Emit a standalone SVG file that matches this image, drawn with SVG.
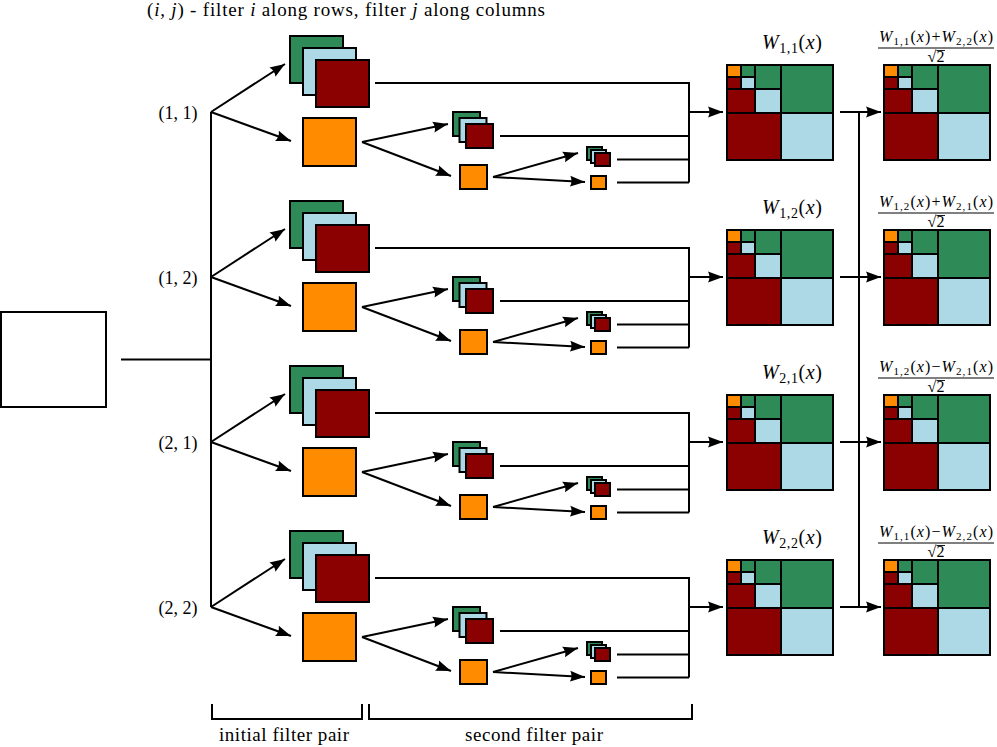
<svg xmlns="http://www.w3.org/2000/svg" xmlns:xlink="http://www.w3.org/1999/xlink" width="997" height="747" viewBox="0 0 997 747" font-family="'Liberation Serif', 'DejaVu Serif', serif">
<style>
.ln{fill:none;stroke:#000;stroke-width:2}
.ar{marker-end:url(#ah)}
text{font-family:"Liberation Serif","DejaVu Serif",serif;fill:#000}
.it{font-style:italic}
</style>
<defs>
<marker id="ah" markerUnits="userSpaceOnUse" markerWidth="16" markerHeight="12" refX="15" refY="6" orient="auto">
<path d="M0,0.5 L15,6 L0,11.5 Q3,6 0,0.5 z" fill="#000"/>
</marker>
<g id="s1" stroke="#000" stroke-width="2">
<rect x="0" y="0" width="53" height="47" fill="#2e8b57"/>
<rect x="13" y="12" width="53" height="47" fill="#add8e6"/>
<rect x="26" y="24" width="53" height="47" fill="#8b0000"/>
</g>
<g id="s2" stroke="#000" stroke-width="2">
<rect x="0" y="0" width="27" height="24" fill="#2e8b57"/>
<rect x="6.5" y="6" width="27" height="24" fill="#add8e6"/>
<rect x="13" y="12" width="27" height="24" fill="#8b0000"/>
</g>
<g id="s3" stroke="#000" stroke-width="2">
<rect x="0" y="0" width="15" height="13" fill="#2e8b57"/>
<rect x="4" y="3" width="15" height="13" fill="#add8e6"/>
<rect x="8" y="6" width="15" height="13" fill="#8b0000"/>
</g>
<g id="wq" stroke="#000" stroke-width="2">
<rect x="54" y="0" width="52" height="48" fill="#2e8b57"/>
<rect x="54" y="48" width="52" height="47" fill="#add8e6"/>
<rect x="0" y="48" width="54" height="47" fill="#8b0000"/>
<rect x="28" y="0" width="26" height="24" fill="#2e8b57"/>
<rect x="28" y="24" width="26" height="24" fill="#add8e6"/>
<rect x="0" y="24" width="28" height="24" fill="#8b0000"/>
<rect x="0" y="0" width="14" height="12" fill="#ff8c00"/>
<rect x="14" y="0" width="14" height="12" fill="#2e8b57"/>
<rect x="14" y="12" width="14" height="12" fill="#add8e6"/>
<rect x="0" y="12" width="14" height="12" fill="#8b0000"/>
<rect x="0" y="0" width="106" height="95" fill="none"/>
</g>
<g id="rowlines">
<path class="ln ar" d="M211,112 L285,64"/>
<path class="ln ar" d="M211,112 L291,141"/>
<path class="ln" d="M375,83 H689 V182.5"/>
<path class="ln ar" d="M362,142 L448,124"/>
<path class="ln ar" d="M362,142 L451,176"/>
<path class="ln" d="M500,136 H689"/>
<path class="ln ar" d="M493,177 L578,153"/>
<path class="ln ar" d="M493,177 L585,182"/>
<path class="ln" d="M617,159.5 H689"/>
<path class="ln" d="M617,182.5 H689"/>
<path class="ln ar" d="M689,112 H723"/>
<path class="ln ar" d="M840,112 H881"/>
</g>
</defs>

<text x="147" y="16" font-size="19" textLength="398" lengthAdjust="spacing">(<tspan class="it">i, j</tspan>) - filter <tspan class="it">i</tspan> along rows, filter <tspan class="it">j</tspan> along columns</text>

<g id="input"><rect x="1" y="312" width="105" height="95" fill="#fff" stroke="#000" stroke-width="2"/></g>

<g id="connectors">
<path class="ln" d="M121,359.5 H211"/>
<path class="ln" d="M211,112 V607"/>
<path class="ln" d="M859,112 V607"/>
<use xlink:href="#rowlines"/>
<use xlink:href="#rowlines" y="165"/>
<use xlink:href="#rowlines" y="330"/>
<use xlink:href="#rowlines" y="495"/>
</g>

<g id="row1">
<text x="178" y="119" font-size="18" text-anchor="middle" textLength="39">(1, 1)</text>
<g id="r1-l1"><use xlink:href="#s1" x="290" y="36"/></g>
<g id="r1-o1"><rect x="303" y="118" width="53" height="48" fill="#ff8c00" stroke="#000" stroke-width="2"/></g>
<g id="r1-l2"><use xlink:href="#s2" x="453" y="112"/></g>
<g id="r1-o2"><rect x="460" y="165" width="27" height="24" fill="#ff8c00" stroke="#000" stroke-width="2"/></g>
<g id="r1-l3"><use xlink:href="#s3" x="587" y="147"/></g>
<g id="r1-o3"><rect x="591" y="176" width="15" height="13" fill="#ff8c00" stroke="#000" stroke-width="2"/></g>
<g id="r1-w"><use xlink:href="#wq" x="727" y="65"/><text x="792" y="49" font-size="20" text-anchor="middle" textLength="60"><tspan class="it">W</tspan><tspan font-size="14" dy="4">1,1</tspan><tspan dy="-4">(</tspan><tspan class="it">x</tspan>)</text></g>
<g id="r1-c"><use xlink:href="#wq" x="884" y="65"/><text x="936" y="42" font-size="16" text-anchor="middle" textLength="114"><tspan class="it">W</tspan><tspan font-size="11" dy="2.5">1,1</tspan><tspan dy="-2.5">(</tspan><tspan class="it">x</tspan>)+<tspan class="it">W</tspan><tspan font-size="11" dy="2.5">2,2</tspan><tspan dy="-2.5">(</tspan><tspan class="it">x</tspan>)</text><path d="M878,48 H994" stroke="#000" stroke-width="1"/><text x="936" y="62" font-size="16" text-anchor="middle">√2</text><path d="M936.5,50.5 H945" stroke="#000" stroke-width="0.9"/></g>
</g>

<g id="row2" transform="translate(0,165)">
<text x="178" y="119" font-size="18" text-anchor="middle" textLength="39">(1, 2)</text>
<g id="r2-l1"><use xlink:href="#s1" x="290" y="36"/></g>
<g id="r2-o1"><rect x="303" y="118" width="53" height="48" fill="#ff8c00" stroke="#000" stroke-width="2"/></g>
<g id="r2-l2"><use xlink:href="#s2" x="453" y="112"/></g>
<g id="r2-o2"><rect x="460" y="165" width="27" height="24" fill="#ff8c00" stroke="#000" stroke-width="2"/></g>
<g id="r2-l3"><use xlink:href="#s3" x="587" y="147"/></g>
<g id="r2-o3"><rect x="591" y="176" width="15" height="13" fill="#ff8c00" stroke="#000" stroke-width="2"/></g>
<g id="r2-w"><use xlink:href="#wq" x="727" y="65"/><text x="792" y="49" font-size="20" text-anchor="middle" textLength="60"><tspan class="it">W</tspan><tspan font-size="14" dy="4">1,2</tspan><tspan dy="-4">(</tspan><tspan class="it">x</tspan>)</text></g>
<g id="r2-c"><use xlink:href="#wq" x="884" y="65"/><text x="936" y="42" font-size="16" text-anchor="middle" textLength="114"><tspan class="it">W</tspan><tspan font-size="11" dy="2.5">1,2</tspan><tspan dy="-2.5">(</tspan><tspan class="it">x</tspan>)+<tspan class="it">W</tspan><tspan font-size="11" dy="2.5">2,1</tspan><tspan dy="-2.5">(</tspan><tspan class="it">x</tspan>)</text><path d="M878,48 H994" stroke="#000" stroke-width="1"/><text x="936" y="62" font-size="16" text-anchor="middle">√2</text><path d="M936.5,50.5 H945" stroke="#000" stroke-width="0.9"/></g>
</g>

<g id="row3" transform="translate(0,330)">
<text x="178" y="119" font-size="18" text-anchor="middle" textLength="39">(2, 1)</text>
<g id="r3-l1"><use xlink:href="#s1" x="290" y="36"/></g>
<g id="r3-o1"><rect x="303" y="118" width="53" height="48" fill="#ff8c00" stroke="#000" stroke-width="2"/></g>
<g id="r3-l2"><use xlink:href="#s2" x="453" y="112"/></g>
<g id="r3-o2"><rect x="460" y="165" width="27" height="24" fill="#ff8c00" stroke="#000" stroke-width="2"/></g>
<g id="r3-l3"><use xlink:href="#s3" x="587" y="147"/></g>
<g id="r3-o3"><rect x="591" y="176" width="15" height="13" fill="#ff8c00" stroke="#000" stroke-width="2"/></g>
<g id="r3-w"><use xlink:href="#wq" x="727" y="65"/><text x="792" y="49" font-size="20" text-anchor="middle" textLength="60"><tspan class="it">W</tspan><tspan font-size="14" dy="4">2,1</tspan><tspan dy="-4">(</tspan><tspan class="it">x</tspan>)</text></g>
<g id="r3-c"><use xlink:href="#wq" x="884" y="65"/><text x="936" y="42" font-size="16" text-anchor="middle" textLength="114"><tspan class="it">W</tspan><tspan font-size="11" dy="2.5">1,2</tspan><tspan dy="-2.5">(</tspan><tspan class="it">x</tspan>)−<tspan class="it">W</tspan><tspan font-size="11" dy="2.5">2,1</tspan><tspan dy="-2.5">(</tspan><tspan class="it">x</tspan>)</text><path d="M878,48 H994" stroke="#000" stroke-width="1"/><text x="936" y="62" font-size="16" text-anchor="middle">√2</text><path d="M936.5,50.5 H945" stroke="#000" stroke-width="0.9"/></g>
</g>

<g id="row4" transform="translate(0,495)">
<text x="178" y="119" font-size="18" text-anchor="middle" textLength="39">(2, 2)</text>
<g id="r4-l1"><use xlink:href="#s1" x="290" y="36"/></g>
<g id="r4-o1"><rect x="303" y="118" width="53" height="48" fill="#ff8c00" stroke="#000" stroke-width="2"/></g>
<g id="r4-l2"><use xlink:href="#s2" x="453" y="112"/></g>
<g id="r4-o2"><rect x="460" y="165" width="27" height="24" fill="#ff8c00" stroke="#000" stroke-width="2"/></g>
<g id="r4-l3"><use xlink:href="#s3" x="587" y="147"/></g>
<g id="r4-o3"><rect x="591" y="176" width="15" height="13" fill="#ff8c00" stroke="#000" stroke-width="2"/></g>
<g id="r4-w"><use xlink:href="#wq" x="727" y="65"/><text x="792" y="49" font-size="20" text-anchor="middle" textLength="60"><tspan class="it">W</tspan><tspan font-size="14" dy="4">2,2</tspan><tspan dy="-4">(</tspan><tspan class="it">x</tspan>)</text></g>
<g id="r4-c"><use xlink:href="#wq" x="884" y="65"/><text x="936" y="42" font-size="16" text-anchor="middle" textLength="114"><tspan class="it">W</tspan><tspan font-size="11" dy="2.5">1,1</tspan><tspan dy="-2.5">(</tspan><tspan class="it">x</tspan>)−<tspan class="it">W</tspan><tspan font-size="11" dy="2.5">2,2</tspan><tspan dy="-2.5">(</tspan><tspan class="it">x</tspan>)</text><path d="M878,48 H994" stroke="#000" stroke-width="1"/><text x="936" y="62" font-size="16" text-anchor="middle">√2</text><path d="M936.5,50.5 H945" stroke="#000" stroke-width="0.9"/></g>
</g>

<g id="braces">
<path class="ln" d="M212,704 V719 H362 V704"/>
<path class="ln" d="M369,704 V719 H692 V704"/>
<text x="284" y="741" font-size="19" text-anchor="middle" textLength="130">initial filter pair</text>
<text x="534" y="741" font-size="19" text-anchor="middle" textLength="138">second filter pair</text>
</g>
</svg>
